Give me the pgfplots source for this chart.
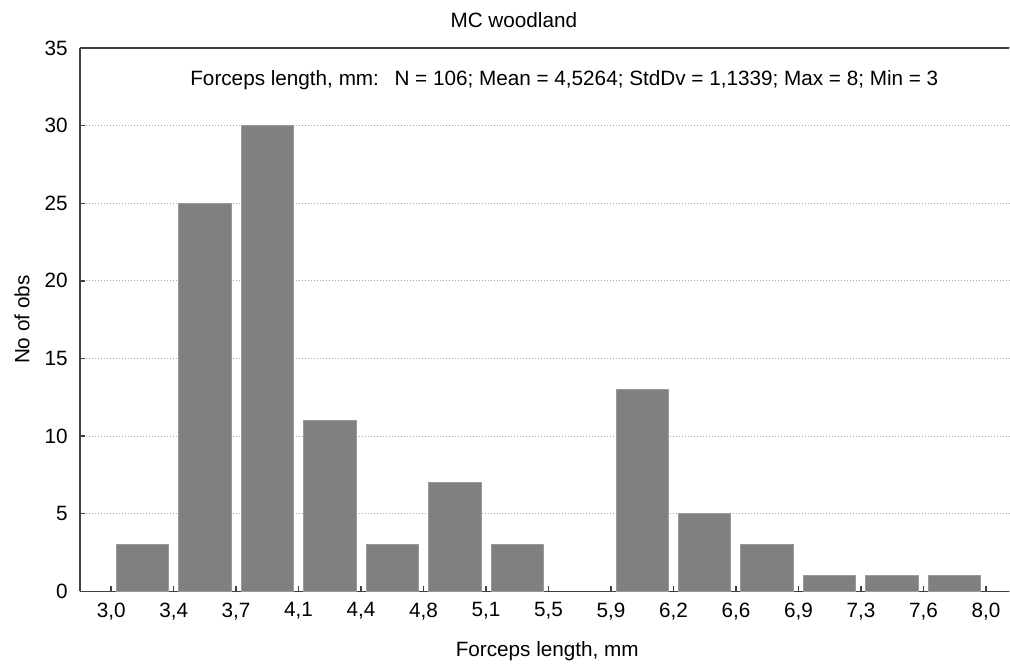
\documentclass[border=0pt]{standalone}
\usepackage{fontspec}
\setmainfont{Liberation Sans}
\usepackage{pgfplots}
\pgfplotsset{compat=1.18}

\definecolor{barfill}{HTML}{808080}
\definecolor{baredge}{HTML}{9A9A9A}
\definecolor{spine}{HTML}{404040}

\begin{document}
\fontsize{10.4}{12.5}\selectfont
\begin{tikzpicture}
\begin{axis}[
    name=hist,
    width=465bp, height=272bp, scale only axis,
    xmin=-0.5, xmax=14.37,
    ymin=0, ymax=35,
    axis lines*=left,
    xtick pos=left, ytick pos=left,
    axis line style={spine, line width=0.8bp},
    tick style={spine, line width=0.7bp},
    tick align=inside,
    major tick length=2.5bp,
    xtick={0,...,14},
    xticklabels={{3,0},{3,4},{3,7},{4,1},{4,4},{4,8},{5,1},{5,5},{5,9},{6,2},{6,6},{6,9},{7,3},{7,6},{8,0}},
    ytick={0,5,...,35},
    /pgf/number format/assume math mode=true,
    yticklabel style={xshift=-2.5bp},
    xticklabel style={yshift=-2bp},
    ymajorgrids,
    major grid style={gray!70, line width=0.5bp, dash pattern=on 0.5bp off 1bp},
    xlabel={Forceps length, mm},
    ylabel={No of obs},
    xlabel style={at={(axis description cs:0.503,-0.110)}, anchor=center},
    ylabel style={at={(axis description cs:-0.0624,0.5)}, anchor=center},
    clip=false,
]

% 14 bins from 3 to 8 mm, counts (N = 106), empty bin 5.5-5.9 left out
\addplot[ybar, bar width=0.84, fill=barfill, draw=baredge, line width=0.5bp]
coordinates {
    (0.5,3) (1.5,25) (2.5,30) (3.5,11) (4.5,3) (5.5,7) (6.5,3)
    (8.5,13) (9.5,5) (10.5,3) (11.5,1) (12.5,1) (13.5,1)
};

% top frame line, no right spine
\draw[spine, line width=0.8bp] (rel axis cs:0,1) -- (rel axis cs:1,1);

\node[anchor=center, yshift=14bp] at (rel axis cs:0.467,1) {MC woodland};
\node[anchor=west] at (rel axis cs:0.111,0.941)
    {Forceps length, mm:\hspace{0.75em}N = 106; Mean = 4,5264; StdDv = 1,1339; Max = 8; Min = 3};
\end{axis}
\pgfresetboundingbox
\path[use as bounding box] ([shift={(-40bp,-37bp)}]hist.south west) rectangle ([shift={(0.5bp,24bp)}]hist.north east);
\end{tikzpicture}
\end{document}
